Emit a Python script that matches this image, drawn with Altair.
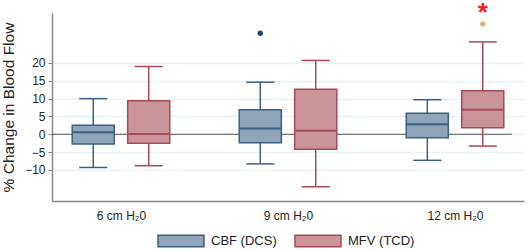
import altair as alt
import pandas as pd

groups = ["6 cm H₂0", "9 cm H₂0", "12 cm H₂0"]
series = ["CBF (DCS)", "MFV (TCD)"]

cbf_lower = [-9.3, -8.3, -7.3]
cbf_q1 = [-2.7, -2.4, -1.0]
cbf_median = [0.55, 1.6, 2.8]
cbf_q3 = [2.5, 6.9, 5.9]
cbf_upper = [10.0, 14.6, 9.7]

mfv_lower = [-8.8, -14.7, -3.3]
mfv_q1 = [-2.5, -4.2, 1.8]
mfv_median = [0.1, 1.0, 6.9]
mfv_q3 = [9.4, 12.6, 12.2]
mfv_upper = [19.0, 20.7, 25.9]

outlier_group = ["9 cm H₂0", "12 cm H₂0"]
outlier_series = ["CBF (DCS)", "MFV (TCD)"]
outlier_value = [28.3, 30.9]
outlier_color = ["#1d4a73", "#c9bf7c"]

sig_group = ["12 cm H₂0"]
sig_series = ["MFV (TCD)"]
sig_value = [34.6]

fills = ["#8ea4b9", "#c99599"]
strokes = ["#3d5f83", "#a64b54"]

rows = []
for i, g in enumerate(groups):
    rows.append(dict(group=g, gi=i + 1, series=series[0], lower=cbf_lower[i], q1=cbf_q1[i],
                     median=cbf_median[i], q3=cbf_q3[i], upper=cbf_upper[i]))
    rows.append(dict(group=g, gi=i + 1, series=series[1], lower=mfv_lower[i], q1=mfv_q1[i],
                     median=mfv_median[i], q3=mfv_q3[i], upper=mfv_upper[i]))
df = pd.DataFrame(rows)

odf = pd.DataFrame(dict(group=outlier_group, series=outlier_series, value=outlier_value, col=outlier_color))
odf["gi"] = odf["group"].map({g: i + 1 for i, g in enumerate(groups)})
sdf = pd.DataFrame(dict(group=sig_group, series=sig_series, value=sig_value))
sdf["gi"] = sdf["group"].map({g: i + 1 for i, g in enumerate(groups)})

# group slot position, box half-width and cap half-width in x-scale units
pos_calc = "datum.gi + (datum.series == 'CBF (DCS)' ? -0.166 : 0.166)"
BOX_HALF = 0.126
CAP_HALF = 0.084

label_expr = "datum.value == 1 ? '6 cm H₂0' : datum.value == 2 ? '9 cm H₂0' : '12 cm H₂0'"

xscale = alt.Scale(domain=[0.587, 3.413], nice=False, zero=False)
xaxis = alt.Axis(values=[1, 2, 3], labelExpr=label_expr, ticks=False, grid=False,
                 title=None, labelFontSize=12, labelPadding=9, labelColor="#222",
                 domainColor="#8a8a8a", domainWidth=1.5, labelFont="Liberation Sans")
yscale = alt.Scale(domain=[-18.7, 34], nice=False, zero=False)
yaxis = alt.Axis(values=[20, 15, 10, 5, 0, -5, -10], title="% Change in Blood Flow",
                 titleFontSize=15.5, titleFontWeight="normal", titleColor="#222",
                 titleFont="Liberation Sans", labelFont="Liberation Sans",
                 labelFontSize=12, labelColor="#222", tickSize=4, tickColor="#8a8a8a",
                 tickWidth=1, labelPadding=3, domainColor="#8a8a8a", domainWidth=1.5,
                 gridColor="#e8f1f3", gridWidth=1.5, titlePadding=8,
                 labelOverlap=False, labelFlush=False)


def X(field):
    return alt.X(field, type="quantitative", scale=xscale, axis=xaxis)


def Y(field):
    return alt.Y(field, type="quantitative", scale=yscale, axis=yaxis)


stroke_scale = alt.Scale(domain=series, range=strokes)
fill_scale = alt.Scale(domain=series, range=fills)

legend = alt.Legend(title=None, orient="none", legendX=116.5, legendY=215,
                    direction="horizontal",
                    symbolType="M-2,-0.5H2V0.5H-2Z", symbolSize=529,
                    symbolStrokeWidth=1.5, labelFontSize=13,
                    labelFont="Liberation Sans", labelColor="#222",
                    labelOffset=17.5, columnPadding=14)

S = alt.Stroke("series:N", scale=stroke_scale, legend=legend)

base = alt.Chart(df).transform_calculate(
    pos=pos_calc,
    bl=f"datum.pos - {BOX_HALF}", br=f"datum.pos + {BOX_HALF}",
    cl=f"datum.pos - {CAP_HALF}", cr=f"datum.pos + {CAP_HALF}",
)

zero_rule = alt.Chart(pd.DataFrame({"z": [0]})).mark_rule(color="#555555", strokeWidth=1).encode(
    y=Y("z"), x=alt.value(0), x2=alt.value(460))

whisk = base.mark_rule(strokeWidth=1.5).encode(x=X("pos"), y=Y("lower"), y2="upper", stroke=S)
cap_lo = base.mark_rule(strokeWidth=1.5).encode(x=X("cl"), x2="cr", y=Y("lower"), stroke=S)
cap_hi = base.mark_rule(strokeWidth=1.5).encode(x=X("cl"), x2="cr", y=Y("upper"), stroke=S)

box = base.mark_rect(strokeWidth=1.5, opacity=1).encode(
    x=X("bl"), x2="br", y=Y("q1"), y2="q3",
    fill=alt.Fill("series:N", scale=fill_scale, legend=legend),
    stroke=S)

med = base.mark_rule(strokeWidth=2).encode(x=X("bl"), x2="br", y=Y("median"), stroke=S)

out = alt.Chart(odf).transform_calculate(pos=pos_calc).mark_circle(size=30, opacity=1).encode(
    x=X("pos"), y=Y("value"), color=alt.Color("col:N", scale=None))

sig = alt.Chart(sdf).transform_calculate(pos=pos_calc).mark_text(
    text="*", fontSize=26, fontWeight="bold", color="#ff1a1a", baseline="middle", dy=2,
    font="Liberation Sans", clip=False).encode(x=X("pos"), y=Y("value"))

chart = alt.layer(zero_rule, whisk, cap_lo, cap_hi, box, med, out, sig).properties(
    width=472, height=188,
    autosize=alt.AutoSizeParams(type="none"),
    padding={"left": 52, "top": 13, "right": 4, "bottom": 50},
).configure_view(stroke=None)

chart.save("out.html", embed_options={"renderer": "svg", "actions": False})
